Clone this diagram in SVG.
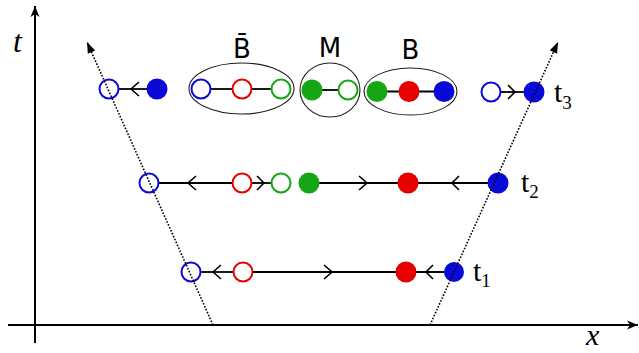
<svg xmlns="http://www.w3.org/2000/svg" width="639" height="353" viewBox="0 0 639 353">
<style>
.ax{stroke:#000;stroke-width:2;fill:none}
.dot{stroke:#000;stroke-width:1.6;stroke-dasharray:1.6 1.6;fill:none}
.ln{stroke:#000;stroke-width:1.8;fill:none}
.ch{stroke:#000;stroke-width:1.6;fill:none;stroke-linejoin:miter}
.ob{fill:none;stroke:#0a0ad8;stroke-width:2}
.or{fill:none;stroke:#e60000;stroke-width:2}
.og{fill:none;stroke:#14a614;stroke-width:2}
.fb{fill:#0a0ad8}
.fr{fill:#e60000}
.fg{fill:#14a614}
.el{fill:none;stroke:#2a1c1c;stroke-width:1.1}
.lab{font-family:"DejaVu Sans",sans-serif;font-size:26px;fill:#000;text-anchor:middle}
.tl{font-family:"Liberation Serif",serif;font-size:30px;fill:#000}
.sub{font-size:19px}
.ml{font-family:"Liberation Serif",serif;font-size:32px;font-style:italic;fill:#000}
</style>
<defs>
<marker id="ah" viewBox="-12 -6 13 12" markerWidth="13" markerHeight="12" refX="0" refY="0" orient="auto" markerUnits="userSpaceOnUse">
<path d="M0,0 L-11,-4.5 L-8,0 L-11,4.5 Z" fill="#000"/>
</marker>
<marker id="dh" viewBox="-12 -5 13 10" markerWidth="13" markerHeight="10" refX="0" refY="0" orient="auto" markerUnits="userSpaceOnUse">
<path d="M0,0 L-11,-4 L-11,4 Z" fill="#000"/>
</marker>
</defs>

<g id="axes">
<line class="ax" x1="35" y1="343" x2="35" y2="6" marker-end="url(#ah)"/>
<line class="ax" x1="8" y1="325" x2="638" y2="325" marker-end="url(#ah)"/>
<text class="ml" x="13" y="52">t</text>
<text class="ml" x="586" y="345" style="font-size:30px">x</text>
</g>

<g id="connectors">
<!-- t3 row -->
<line class="ln" x1="119" y1="89" x2="150" y2="89"/>
<polyline class="ch" points="139,82 131,89 139,96"/>
<line class="ln" x1="211" y1="89" x2="232" y2="89"/>
<line class="ln" x1="252" y1="89" x2="271" y2="89"/>
<line class="ln" x1="320" y1="90" x2="338" y2="90"/>
<line class="ln" x1="385" y1="91.5" x2="440" y2="91.5"/>
<line class="ln" x1="501" y1="92" x2="530" y2="92"/>
<polyline class="ch" points="508,85 515,92 508,99"/>
<!-- t2 row -->
<line class="ln" x1="159" y1="183" x2="232" y2="183"/>
<polyline class="ch" points="196,176 188,183 196,190"/>
<line class="ln" x1="252" y1="183" x2="271" y2="183"/>
<polyline class="ch" points="257,176 264,183 257,190"/>
<line class="ln" x1="310" y1="183" x2="495" y2="183"/>
<polyline class="ch" points="359,176 367,183 359,190"/>
<polyline class="ch" points="459,176 452,183 459,190"/>
<!-- t1 row -->
<line class="ln" x1="201" y1="272" x2="233" y2="272"/>
<polyline class="ch" points="221,265 213,272 221,279"/>
<line class="ln" x1="253" y1="272" x2="450" y2="272"/>
<polyline class="ch" points="324,265 332,272 324,279"/>
<polyline class="ch" points="433,265 426,272 433,279"/>
</g>

<g id="t3-left">
<circle class="ob" cx="109" cy="89" r="9.5"/>
<circle class="fb" cx="157" cy="89" r="10.5"/>
</g>
<g id="Bbar">
<ellipse class="el" cx="241.5" cy="88.5" rx="52.5" ry="25.5"/>
<circle class="ob" cx="201" cy="89" r="9.5"/>
<circle class="or" cx="242" cy="89" r="9.5"/>
<circle class="og" cx="281" cy="89" r="9.5"/>
<text class="lab" x="242" y="58">B̄</text>
</g>
<g id="M">
<ellipse class="el" cx="330" cy="90" rx="30" ry="27"/>
<circle class="fg" cx="312" cy="90" r="10.5"/>
<circle class="og" cx="348" cy="90" r="9.5"/>
<text class="lab" x="330" y="57">M</text>
</g>
<g id="B">
<ellipse class="el" cx="410.5" cy="91.5" rx="46.5" ry="23.5"/>
<circle class="fg" cx="377" cy="91.5" r="10.5"/>
<circle class="fr" cx="409" cy="91.5" r="10.5"/>
<circle class="fb" cx="444" cy="91.5" r="10.5"/>
<text class="lab" x="410.5" y="59">B</text>
</g>
<g id="t3-right">
<circle class="ob" cx="491" cy="92" r="9.5"/>
<circle class="fb" cx="534" cy="92" r="10.5"/>
<text class="tl" x="554" y="102">t<tspan class="sub" dy="7">3</tspan></text>
</g>

<g id="t2">
<circle class="ob" cx="149" cy="183" r="9.5"/>
<circle class="or" cx="242" cy="183" r="9.5"/>
<circle class="og" cx="281" cy="183" r="9.5"/>
<circle class="fg" cx="309" cy="183" r="10.5"/>
<circle class="fr" cx="408" cy="183" r="10.5"/>
<circle class="fb" cx="498" cy="183" r="10.5"/>
<text class="tl" x="521" y="192">t<tspan class="sub" dy="6">2</tspan></text>
</g>

<g id="t1">
<circle class="ob" cx="191" cy="272" r="9.5"/>
<circle class="or" cx="243" cy="272" r="9.5"/>
<circle class="fr" cx="406" cy="272" r="10.5"/>
<circle class="fb" cx="454" cy="272" r="10"/>
<text class="tl" x="473" y="281">t<tspan class="sub" dy="6">1</tspan></text>
</g>

<g id="worldlines">
<line class="dot" x1="213" y1="325" x2="87" y2="42" marker-end="url(#dh)"/>
<line class="dot" x1="430" y1="325" x2="558" y2="42" marker-end="url(#dh)"/>
</g>
</svg>
